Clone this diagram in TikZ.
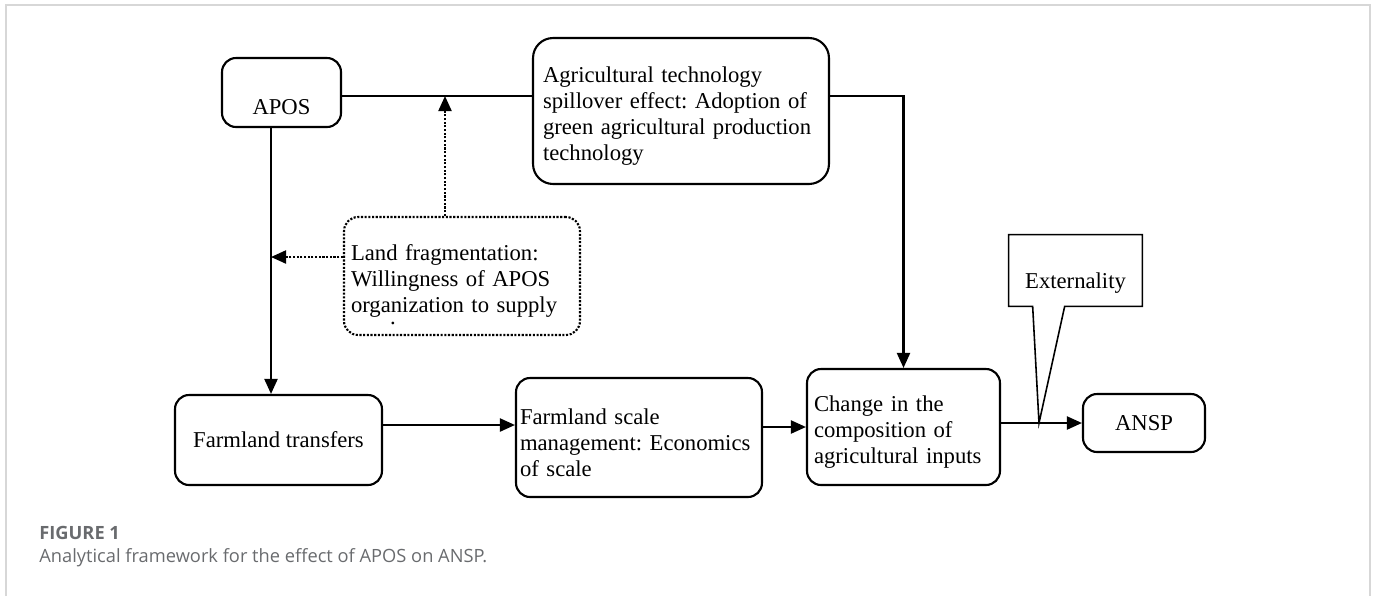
\documentclass[tikz,border=0pt]{standalone}
\usepackage{fontspec}
\setmainfont{Liberation Serif}
\newfontfamily\capfont{Open Sans}
\usetikzlibrary{arrows.meta,calc}
\definecolor{capgray}{RGB}{105,107,110}
\definecolor{framegray}{RGB}{215,215,215}
\tikzset{
  box/.style={draw,line width=1.2pt,rounded corners=0.28cm,font=\fontsize{12.9}{14.8}\selectfont\frenchspacing,inner xsep=0.14cm,inner ysep=0pt},
  leftbox/.style={box,align=left},
  link/.style={line width=1.2pt},
  arrow/.style={link,-{Triangle[length=0.3cm,width=0.26cm]}},
  dotarrow/.style={arrow,dash pattern=on 1.2pt off 0.9pt},
  caption/.style={font=\capfont\fontsize{10.4}{12}\selectfont,text=capgray,anchor=west,inner sep=0pt},
  captionhead/.style={caption,font=\capfont\fontsize{10.4}{12}\selectfont\bfseries},
}
\newcommand{\lowered}[2]{\raisebox{-#1}[\height][\depth]{#2}}
\newcommand{\topgap}{\rule{0pt}{0.53cm}}

\begin{document}
\begin{tikzpicture}[x=0.02cm,y=-0.02cm]
\useasboundingbox (0,0) rectangle (1373,596);
\draw[framegray,line width=1.1pt] (6,596)--(6,5)--(1370,5)--(1370,596);

\node[box,minimum width=2.38cm,minimum height=1.38cm] (apos) at (281.5,92.5) {\lowered{0.29cm}{APOS}};
\node[leftbox,rounded corners=0.4cm,text width=5.52cm,inner xsep=0.2cm,minimum height=2.92cm] (tech) at (681,111)
  {\topgap Agricultural technology\\spillover effect: Adoption of\\green agricultural production\\technology};
\node[leftbox,dash pattern=on 1.2pt off 0.9pt,text width=4.44cm,minimum height=2.36cm] (land) at (462,276)
  {\topgap Land fragmentation:\\Willingness of APOS\\\makebox[0pt][l]{\hspace*{0.78cm}\raisebox{-0.24cm}[0pt][0pt]{.}}organization to supply};
\node[box,minimum width=4.14cm,minimum height=1.8cm] (farm) at (278.5,440) {Farmland transfers};
\node[leftbox,text width=4.76cm,inner xsep=0.08cm,minimum height=2.38cm] (scale) at (639,437.5)
  {\topgap Farmland scale\\management: Economics\\of scale};
\node[leftbox,text width=3.58cm,minimum height=2.32cm] (change) at (903.5,427)
  {\topgap Change in the\\composition of\\agricultural inputs};
\node[box,minimum width=2.44cm,minimum height=1.16cm] (ansp) at (1144,423) {ANSP};
\node[font=\fontsize{12.9}{14.8}\selectfont,minimum width=2.66cm,minimum height=1.42cm,inner sep=0pt] (ext) at (1075.5,270.5) {\lowered{0.25cm}{Externality}};

\coordinate (join) at (445,96);
\coordinate (stem) at (271,257);
\coordinate (exttip) at (1039,423);

\draw[link] (apos.east |- join)--(tech.west |- join);
\draw[arrow] (tech.east |- join) -| (change.north);
\draw[dotarrow] (land.north -| join)--(join);
\draw[arrow] (apos.south -| stem)--(farm.north -| stem);
\draw[dotarrow] (land.west |- stem)--(stem);
\draw[arrow] ([yshift=0.3cm]farm.east)--([yshift=0.3cm]farm.east -| scale.west);
\draw[arrow] (scale.east |- change.west)--(change.west);
\draw[arrow] (change.east |- ansp.west)--(ansp.west);
\draw[line width=0.9pt,line join=miter] ($(ext.south west)+(24,0)$)--(ext.south west)--(ext.north west)--(ext.north east)--(ext.south east)--($(ext.south west)+(56,0)$)--(exttip)--cycle;

\node[captionhead] (fig) at (39,533) {FIGURE 1};
\node[caption] (cap) at (39,558) {Analytical framework for the effect of APOS on ANSP.};
\end{tikzpicture}
\end{document}
